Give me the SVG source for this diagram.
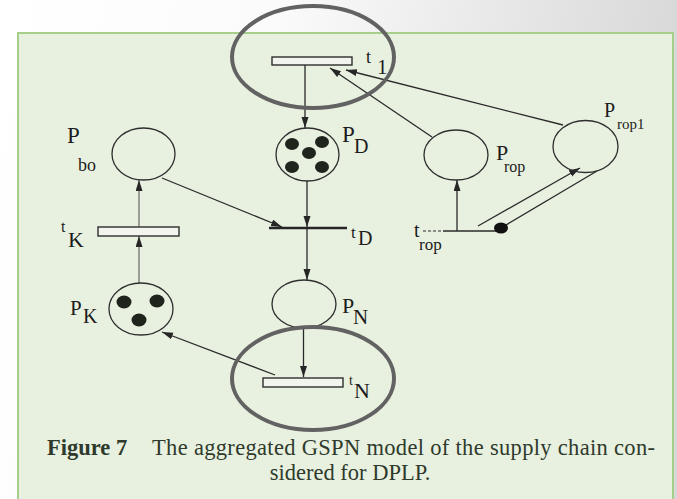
<svg xmlns="http://www.w3.org/2000/svg" width="677" height="499" viewBox="0 0 677 499">
  <defs>
    <linearGradient id="bg" x1="0" y1="0" x2="1" y2="0.15">
      <stop offset="0" stop-color="#ffffff"/>
      <stop offset="0.4" stop-color="#fbfbfb"/>
      <stop offset="1" stop-color="#d8d8d8"/>
    </linearGradient>
    <marker id="arr" markerUnits="userSpaceOnUse" markerWidth="12" markerHeight="8" refX="11" refY="3.5" orient="auto">
      <path d="M0,0 L11,3.5 L0,7 z" fill="#262626"/>
    </marker>
    <style>
      .place { fill: none; stroke: #2e2e2e; stroke-width: 1.3; }
      .token { fill: #1f241d; }
      .trans { fill: #f2f5ee; stroke: #2e2e2e; stroke-width: 1.4; }
      .arc { fill: none; stroke: #2a2a2a; stroke-width: 1.3; }
      .arc-light { fill: none; stroke: #5a5a5a; stroke-width: 1.1; }
      .ring { fill: none; stroke: #626262; stroke-width: 4; }
      .lbl { font-family: "Liberation Serif", "Times New Roman", serif; fill: #1c1c1c; }
      .cap { font-family: "Liberation Serif", "Times New Roman", serif; fill: #2f3a2c; font-size: 22.5px; }
    </style>
  </defs>

  <!-- page background and figure panel -->
  <rect x="0" y="0" width="677" height="499" fill="url(#bg)"/>
  <rect x="18" y="33" width="655" height="480" fill="#e8f1e0" stroke="#a6cf8b" stroke-width="2"/>

  <!-- connectors -->
  <g id="connectors">
    <line class="arc" x1="305" y1="65" x2="305" y2="128" marker-end="url(#arr)"/>
    <line class="arc" x1="432" y1="137" x2="330" y2="68" marker-end="url(#arr)"/>
    <line class="arc" x1="563" y1="125" x2="346" y2="70" marker-end="url(#arr)"/>
    <line class="arc" x1="162" y1="178" x2="282" y2="227" marker-end="url(#arr)"/>
    <line class="arc" x1="307" y1="181" x2="307" y2="227" marker-end="url(#arr)"/>
    <line class="arc" x1="307" y1="229" x2="307" y2="280" marker-end="url(#arr)"/>
    <line class="arc" x1="303.5" y1="328" x2="303.5" y2="377" marker-end="url(#arr)"/>
    <line class="arc" x1="275" y1="375" x2="162" y2="332" marker-end="url(#arr)"/>
    <line class="arc-light" x1="139" y1="227" x2="139" y2="180" marker-end="url(#arr)"/>
    <line class="arc-light" x1="139" y1="283" x2="139" y2="236" marker-end="url(#arr)"/>
    <line class="arc" x1="457" y1="231" x2="457" y2="180" marker-end="url(#arr)"/>
    <line class="arc" x1="478" y1="226" x2="580" y2="168" marker-end="url(#arr)"/>
    <line class="arc" x1="506" y1="225" x2="597" y2="171"/>
  </g>

  <!-- transitions -->
  <g id="t1">
    <rect class="trans" x="272" y="57" width="80" height="8"/>
    <text class="lbl" x="366" y="63" font-size="18">t</text>
    <text class="lbl" x="377" y="74" font-size="21">1</text>
  </g>
  <g id="tD">
    <line x1="269" y1="228" x2="347" y2="228" stroke="#262626" stroke-width="2.6"/>
    <text class="lbl" x="351" y="238" font-size="17">t</text>
    <text class="lbl" x="358" y="245" font-size="20">D</text>
  </g>
  <g id="tK">
    <rect class="trans" x="98" y="227" width="81" height="9"/>
    <text class="lbl" x="61" y="232" font-size="16">t</text>
    <text class="lbl" x="68" y="247" font-size="22">K</text>
  </g>
  <g id="tN">
    <rect class="trans" x="263" y="378" width="80" height="9"/>
    <text class="lbl" x="349" y="385" font-size="14">t</text>
    <text class="lbl" x="354" y="398" font-size="22">N</text>
  </g>
  <g id="trop">
    <line x1="423" y1="231" x2="443" y2="231" stroke="#2a2a2a" stroke-width="1.2" stroke-dasharray="3,2"/>
    <line x1="443" y1="231" x2="500" y2="231" stroke="#2a2a2a" stroke-width="1.4"/>
    <ellipse cx="501" cy="228" rx="7" ry="5.5" fill="#111"/>
    <text class="lbl" x="414" y="237" font-size="20">t</text>
    <text class="lbl" x="419" y="250" font-size="17">rop</text>
  </g>

  <!-- places -->
  <g id="Pbo">
    <ellipse class="place" cx="143.5" cy="154" rx="31.5" ry="26"/>
    <text class="lbl" x="67" y="143" font-size="23">P</text>
    <text class="lbl" x="78" y="171" font-size="18">bo</text>
  </g>
  <g id="PD">
    <ellipse class="place" cx="307.5" cy="154.5" rx="31.5" ry="26.5"/>
    <ellipse class="token" cx="292" cy="144" rx="7" ry="6"/>
    <ellipse class="token" cx="322" cy="142" rx="7" ry="6"/>
    <ellipse class="token" cx="309" cy="153" rx="7" ry="6"/>
    <ellipse class="token" cx="292" cy="167" rx="7" ry="6"/>
    <ellipse class="token" cx="322" cy="167" rx="7" ry="6"/>
    <text class="lbl" x="342" y="142" font-size="23">P</text>
    <text class="lbl" x="354" y="153" font-size="20">D</text>
  </g>
  <g id="PK">
    <ellipse class="place" cx="141" cy="309" rx="32" ry="26"/>
    <ellipse class="token" cx="124" cy="302" rx="7.5" ry="6.5"/>
    <ellipse class="token" cx="157" cy="301" rx="7.5" ry="6.5"/>
    <ellipse class="token" cx="139" cy="320" rx="7.5" ry="6.5"/>
    <text class="lbl" x="70" y="315" font-size="21">P</text>
    <text class="lbl" x="83" y="323" font-size="20">K</text>
  </g>
  <g id="PN">
    <ellipse class="place" cx="304" cy="304" rx="32" ry="24"/>
    <text class="lbl" x="342" y="313" font-size="22">P</text>
    <text class="lbl" x="353" y="324" font-size="21">N</text>
  </g>
  <g id="Prop">
    <ellipse class="place" cx="456" cy="155" rx="32" ry="25"/>
    <text class="lbl" x="496" y="160" font-size="22">P</text>
    <text class="lbl" x="504" y="172" font-size="16">rop</text>
  </g>
  <g id="Prop1">
    <ellipse class="place" cx="585.5" cy="146.5" rx="32.5" ry="26"/>
    <text class="lbl" x="604" y="117" font-size="20">P</text>
    <text class="lbl" x="617" y="129" font-size="15">rop1</text>
  </g>

  <!-- highlight rings -->
  <ellipse class="ring" cx="313" cy="57" rx="81" ry="51"/>
  <ellipse class="ring" cx="313" cy="378.5" rx="81" ry="51.5"/>

  <!-- caption -->
  <g id="caption">
    <text class="cap" x="47" y="455" font-weight="bold">Figure 7</text>
    <text class="cap" x="152" y="455" textLength="503" lengthAdjust="spacing">The aggregated GSPN model of the supply chain con-</text>
    <text class="cap" x="350" y="480" text-anchor="middle">sidered for DPLP.</text>
  </g>
</svg>
